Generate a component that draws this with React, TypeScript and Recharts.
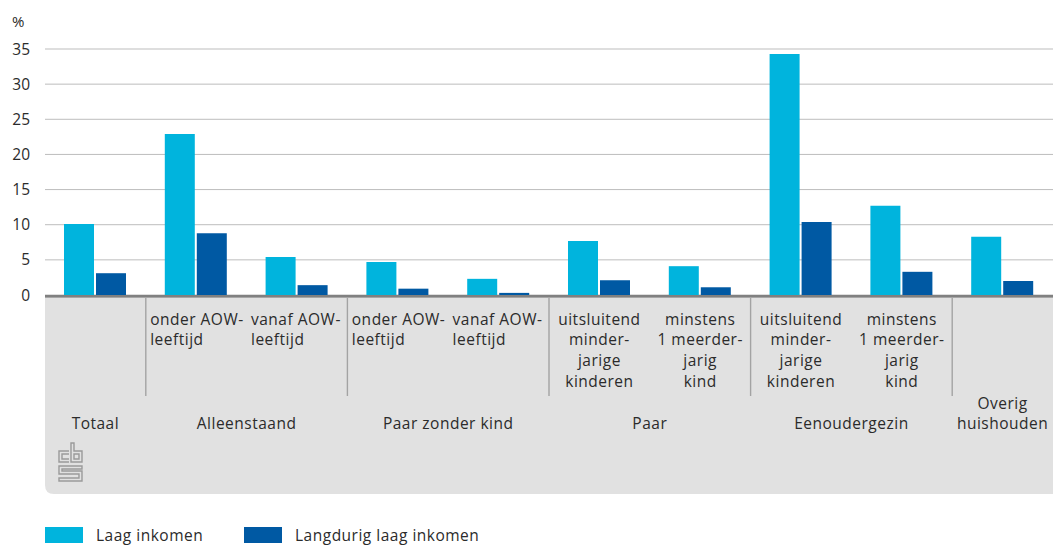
import React from "react";
import { BarChart, Bar, XAxis, YAxis, CartesianGrid, Legend } from "recharts";

// categorieën (subgroep-regels + hoofdgroep)
const subLabels: string[][] = [
  [],
  ["onder AOW-", "leeftijd"],
  ["vanaf AOW-", "leeftijd"],
  ["onder AOW-", "leeftijd"],
  ["vanaf AOW-", "leeftijd"],
  ["uitsluitend", "minder-", "jarige", "kinderen"],
  ["minstens", "1 meerder-", "jarig", "kind"],
  ["uitsluitend", "minder-", "jarige", "kinderen"],
  ["minstens", "1 meerder-", "jarig", "kind"],
  [],
];
const groupLabels: string[][] = [
  ["Totaal"],
  ["Alleenstaand"],
  ["Alleenstaand"],
  ["Paar zonder kind"],
  ["Paar zonder kind"],
  ["Paar"],
  ["Paar"],
  ["Eenoudergezin"],
  ["Eenoudergezin"],
  ["Overig", "huishouden"],
];

// waarden in %
const laagInkomen = [10.1, 22.9, 5.4, 4.7, 2.3, 7.7, 4.1, 34.3, 12.7, 8.3];
const langdurigLaagInkomen = [3.1, 8.8, 1.4, 0.9, 0.3, 2.1, 1.1, 10.4, 3.3, 2.0];

const yTicks = [0, 5, 10, 15, 20, 25, 30, 35];

const seriesNames = ["Laag inkomen", "Langdurig laag inkomen"];
const colors = ["#00b4dd", "#0059a3"];

const FONT = "'Open Sans', sans-serif";
const TEXT = "#2b2b2b";

const WIDTH = 1053;
const HEIGHT = 546;
const PLOT_LEFT = 45;
const PLOT_WIDTH = WIDTH - PLOT_LEFT;
const BAND = PLOT_WIDTH / subLabels.length;

const data = subLabels.map((sub, i) => ({
  key: groupLabels[i].join(" ") + "|" + sub.join(" "),
  laag: laagInkomen[i],
  langdurig: langdurigLaagInkomen[i],
}));

const groupKey = (i: number) => groupLabels[i].join(" ");

const CbsLogo = ({ x, y }: { x: number; y: number }) => (
  <g transform={`translate(${x},${y})`} fill="none" stroke="#9a9a9a" strokeWidth={1.4}>
    {/* c */}
    <path d="M11 8 H1 V19 H11" />
    <path d="M11 11 H4 V16 H11" />
    {/* b */}
    <path d="M13 0 V19 H24 V8 H16 V0 Z" />
    <path d="M16 11 H21 V16 H16 Z" />
    {/* S */}
    <path d="M24 23 H1 V31 H21 V35 H1 V38 H24 V28 H4 V26 H24 Z" />
  </g>
);

const CategoryTick = (props: any) => {
  const { x, y, index } = props;
  const left = x - BAND / 2;
  const isGroupStart = index === 0 || groupKey(index) !== groupKey(index - 1);
  let span = 0;
  if (isGroupStart) {
    for (let j = index; j < groupLabels.length && groupKey(j) === groupKey(index); j++) span++;
  }
  const sub = subLabels[index];
  const leftAligned = sub.length === 2;
  const gLines = groupLabels[index];
  return (
    <g fontFamily={FONT} fontSize={15.5} fill={TEXT} letterSpacing={0.5}>
      {index === 0 && (
        <g>
          <path
            d={`M${left} ${y} H${left + PLOT_WIDTH} V${y + 199} H${left + 9} Q${left} ${y + 199} ${left} ${y + 190} Z`}
            fill="#e1e1e1"
          />
          <rect x={left} y={y} width={PLOT_WIDTH} height={2.6} fill="#808080" />
          <CbsLogo x={left + 13} y={y + 148} />
        </g>
      )}
      {isGroupStart && index > 0 && (
        <line x1={left} x2={left} y1={y + 3} y2={y + 101} stroke="#a3a3a3" strokeWidth={1.4} />
      )}
      {sub.map((line, i) => (
        <text
          key={i}
          x={leftAligned ? x - 46 : x}
          y={y + 29.5 + i * 20.7}
          textAnchor={leftAligned ? "start" : "middle"}
        >
          {line}
        </text>
      ))}
      {isGroupStart &&
        gLines.map((line, i) => (
          <text
            key={"g" + i}
            x={left + (span * BAND) / 2}
            y={y + 134 - (gLines.length - 1 - i) * 20.5}
            textAnchor="middle"
          >
            {line}
          </text>
        ))}
    </g>
  );
};

const ValueTick = (props: any) => {
  const { y, payload } = props;
  return (
    <text x={30} y={y + 5.5} textAnchor="end" fontFamily={FONT} fontSize={15.5} fill={TEXT}>
      {payload.value}
    </text>
  );
};

const LegendContent = () => (
  <div
    style={{
      display: "flex",
      alignItems: "center",
      paddingLeft: PLOT_LEFT,
      paddingTop: 14,
      height: 22,
      fontFamily: FONT,
      fontSize: 15.5,
      letterSpacing: 0.5,
      color: TEXT,
    }}
  >
    {seriesNames.map((name, i) => (
      <div key={name} style={{ display: "flex", alignItems: "center", width: i === 0 ? 199 : "auto" }}>
        <span style={{ width: 38, height: 16, background: colors[i], marginRight: 13 }} />
        <span>{name}</span>
      </div>
    ))}
  </div>
);

export default function App() {
  return (
    <div style={{ width: WIDTH, height: HEIGHT, background: "#fff" }}>
      <style>{`html, body { margin: 0; padding: 0; overflow: hidden; }`}</style>
      <BarChart
        width={WIDTH}
        height={HEIGHT}
        data={data}
        margin={{ top: 49, right: 0, left: 0, bottom: 0 }}
        barSize={30}
        barGap={2}
      >
        <CartesianGrid vertical={false} stroke="#bdbdbd" strokeWidth={1} />
        <XAxis
          dataKey="key"
          interval={0}
          height={215}
          axisLine={false}
          tickLine={false}
          tickSize={0}
          tickMargin={0}
          tick={<CategoryTick />}
        />
        <YAxis
          width={PLOT_LEFT}
          domain={[0, 35]}
          ticks={yTicks}
          axisLine={false}
          tickLine={false}
          tick={<ValueTick />}
          label={{
            content: () => (
              <text x={12} y={27} fontFamily={FONT} fontSize={15} fill={TEXT}>
                %
              </text>
            ),
          }}
        />
        <Legend
          verticalAlign="bottom"
          align="left"
          height={36}
          content={<LegendContent />}
          wrapperStyle={{ left: 0, bottom: 0, width: WIDTH }}
        />
        <Bar dataKey="laag" name={seriesNames[0]} fill={colors[0]} isAnimationActive={false} />
        <Bar dataKey="langdurig" name={seriesNames[1]} fill={colors[1]} isAnimationActive={false} />
      </BarChart>
    </div>
  );
}
